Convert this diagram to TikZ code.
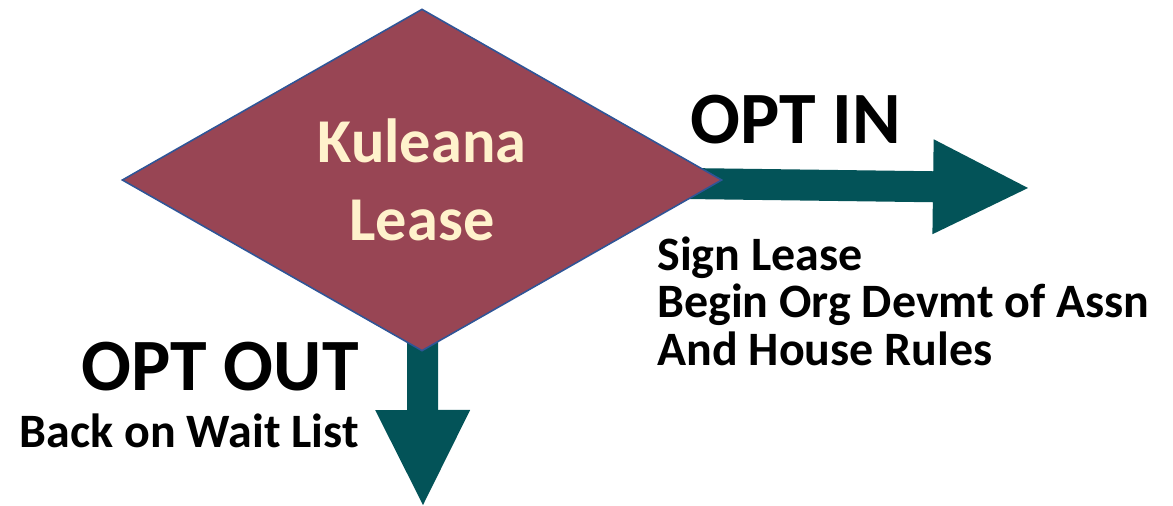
\documentclass[tikz,border=0pt]{standalone}
\usepackage{fontspec}
\setmainfont{Carlito}
\usepackage{tikz}
\usetikzlibrary{arrows.meta,shapes.geometric,backgrounds}

\definecolor{leaseRed}{RGB}{152,69,84}
\definecolor{leaseCream}{RGB}{255,242,204}
\definecolor{edgeBlue}{RGB}{47,85,151}
\definecolor{optTeal}{RGB}{3,83,88}

\begin{document}
\begin{tikzpicture}
            [x=0.02cm, y=-0.02cm,
             choice/.style={diamond, draw=edgeBlue, line width=0.9pt, fill=leaseRed, text=leaseCream, font=\fontsize{35.5}{44.5}\selectfont\bfseries, align=center, aspect=1.75, minimum width=12cm, minimum height=6.84cm, inner sep=0pt},
             flow/.style={draw=optTeal, line width=0.62cm, -{Triangle[length=1.9cm, width=1.9cm, line width=0pt]}},
             head/.style={font=\fontsize{42}{50}\selectfont\bfseries, inner sep=0pt},
             note/.style={font=\fontsize{27.3}{27}\selectfont\bfseries, inner sep=0pt, align=left}]
            \useasboundingbox (0,0) rectangle (1173,505);
            \node[choice] (kl) at (422,180) {Kuleana\\Lease};
            \coordinate (inTip) at (1028,188);
            \coordinate (outTip) at (423,505);
            \begin{scope}[on background layer]
            \draw[flow] (kl.center) -- (inTip);
            \draw[flow] (kl.center) -- (outTip);
            \end{scope}
            \node[head, anchor=base west] (optin) at (690,143) {OPT IN};
            \node[note, anchor=base west] (insteps) at (657,365) {Sign Lease\\Begin Org Devmt of Assn\\And House Rules};
            \node[head, anchor=base east] (optout) at (359,390) {OPT OUT};
            \node[note, anchor=base east] (outstep) at (359,447) {Back on Wait List};
            \end{tikzpicture}
\end{document}
